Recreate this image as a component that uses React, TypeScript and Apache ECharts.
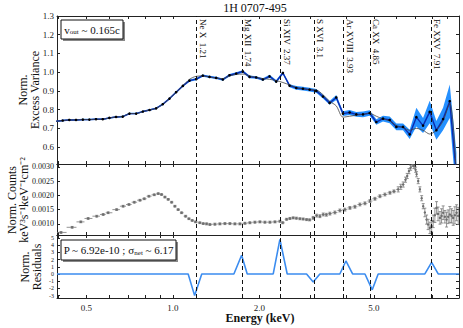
import React, { useEffect, useRef } from 'react';
import * as echarts from 'echarts';

const FONT = 'Liberation Serif';

// ---- top panel: normalised excess variance ----
const energies = [0.392,0.4135,0.436,0.460,0.486,0.512,0.540,0.570,0.601,0.634,0.669,0.706,0.745,0.786,0.829,0.874,0.922,0.973,1.026,1.083,1.142,1.205,1.271,1.341,1.414,1.492,1.574,1.660,1.751,1.848,1.949,2.056,2.169,2.288,2.414,2.547,2.687,2.834,2.990,3.154,3.328,3.510,3.703,3.907,4.121,4.348,4.587,4.839,5.104,5.385,5.681,5.993,6.322,6.669,7.035,7.422,7.829,8.259,8.713,9.192,9.697];
const excessVariance = [0.738,0.742,0.745,0.745,0.747,0.747,0.749,0.749,0.756,0.761,0.763,0.779,0.779,0.790,0.798,0.807,0.829,0.859,0.893,0.927,0.955,0.963,0.982,0.975,0.970,0.961,0.984,0.993,1.004,0.975,0.972,0.961,0.978,0.950,0.996,0.928,0.916,0.912,0.907,0.900,0.870,0.836,0.865,0.779,0.785,0.775,0.775,0.782,0.734,0.752,0.745,0.708,0.708,0.668,0.760,0.715,0.788,0.690,0.750,0.845,0.45];
const excessVarianceErr = [0.004,0.004,0.004,0.004,0.004,0.004,0.004,0.004,0.004,0.004,0.004,0.004,0.004,0.004,0.004,0.004,0.005,0.005,0.005,0.005,0.006,0.006,0.006,0.006,0.006,0.006,0.007,0.007,0.007,0.007,0.007,0.007,0.008,0.008,0.008,0.008,0.010,0.010,0.010,0.010,0.010,0.010,0.013,0.013,0.013,0.013,0.015,0.015,0.015,0.015,0.018,0.018,0.018,0.025,0.05,0.04,0.06,0.05,0.06,0.09,0.12];
const modelVariance = [0.738,0.742,0.745,0.745,0.747,0.747,0.749,0.749,0.756,0.761,0.763,0.779,0.779,0.790,0.798,0.807,0.829,0.859,0.893,0.927,0.962,0.978,0.980,0.974,0.968,0.966,0.980,0.988,0.990,0.980,0.972,0.966,0.962,0.955,0.945,0.932,0.918,0.912,0.907,0.905,0.880,0.845,0.820,0.760,0.765,0.770,0.775,0.780,0.765,0.750,0.740,0.715,0.705,0.690,0.700,0.690,0.670,0.690,0.740,0.835,0.45];

// ---- middle panel: normalised counts ----
const countEnergies = [0.408,0.446,0.478,0.507,0.543,0.572,0.595,0.637,0.671,0.703,0.734,0.768,0.795,0.825,0.861,0.889,0.913,0.938,0.963,0.990,1.016,1.043,1.072,1.107,1.137,1.167,1.199,1.241,1.275,1.31,1.345,1.400,1.457,1.517,1.579,1.643,1.711,1.781,1.853,1.929,2.008,2.090,2.176,2.265,2.357,2.41,2.487,2.554,2.622,2.69,2.767,2.84,2.919,2.99,3.078,3.163,3.247,3.335,3.42,3.518,3.662,3.812,3.968,4.130,4.299,4.475,4.659,4.849,5.047,5.253,5.468,5.692,5.877,6.083,6.21,6.33,6.45,6.538,6.63,6.717,6.82,6.899,6.99,7.047,7.14,7.237,7.34,7.432,7.53,7.635,7.73,7.841,7.95,8.05,8.16,8.27,8.37,8.50,8.61,8.72,8.84,8.96,9.08,9.20,9.33,9.45,9.58,9.71,9.84];
const countValues = [0.00070,0.00088,0.00107,0.00119,0.00127,0.00133,0.00139,0.00150,0.00162,0.00168,0.00176,0.00183,0.00188,0.00197,0.00202,0.00206,0.00203,0.00194,0.00186,0.00176,0.00162,0.00150,0.00139,0.00127,0.00118,0.00112,0.00107,0.00104,0.00101,0.00100,0.00098,0.00099,0.00100,0.00101,0.00101,0.00100,0.00100,0.00102,0.00104,0.00106,0.00107,0.00106,0.00106,0.00107,0.00109,0.00104,0.00116,0.00119,0.00121,0.00120,0.00118,0.00117,0.00115,0.00114,0.00121,0.00129,0.00127,0.00133,0.00132,0.00136,0.00140,0.00147,0.00150,0.00156,0.00160,0.00168,0.00172,0.00180,0.00188,0.00197,0.00203,0.00209,0.00214,0.00221,0.00230,0.00238,0.00255,0.00268,0.00285,0.00297,0.00310,0.00303,0.00290,0.00274,0.00250,0.00221,0.00190,0.00162,0.00140,0.00115,0.00098,0.00086,0.00092,0.00109,0.00130,0.00156,0.00135,0.00121,0.00128,0.00139,0.00125,0.00115,0.00125,0.00133,0.00128,0.00121,0.00130,0.00139,0.00128];
const countErrors = [0.00003,0.00003,0.00003,0.00003,0.00003,0.00003,0.00003,0.00003,0.00003,0.00003,0.00003,0.00003,0.00003,0.00003,0.00003,0.00003,0.00003,0.00003,0.00003,0.00003,0.00003,0.00003,0.00003,0.00003,0.00003,0.00003,0.00003,0.00003,0.00003,0.000035,0.000035,0.000035,0.000035,0.000035,0.000035,0.000035,0.000035,0.000035,0.000035,0.000035,0.000035,0.000035,0.000035,0.000035,0.000035,0.000035,0.000035,0.000035,0.000035,0.000035,0.000035,0.000035,0.000035,0.000035,0.00005,0.00005,0.00005,0.00005,0.00005,0.00005,0.00005,0.00005,0.00005,0.00005,0.00005,0.00005,0.00005,0.00005,0.00005,0.00005,0.00005,0.00005,0.00005,0.00009,0.00009,0.00009,0.00009,0.00009,0.00009,0.00009,0.00009,0.00009,0.00009,0.00009,0.00009,0.00009,0.00009,0.00009,0.00015,0.00016,0.00018,0.0002,0.0002,0.00022,0.00025,0.00022,0.00024,0.00022,0.00025,0.00024,0.00022,0.00026,0.00024,0.00028,0.00025,0.00026,0.0003,0.00028,0.0003];

// ---- bottom panel: residuals ----
const residualEnergies = [0.395,1.13,1.19,1.26,1.63,1.734,1.814,2.234,2.357,2.499,2.918,3.078,3.247,3.81,4.0,4.22,4.66,4.94,5.18,7.53,7.95,8.38,9.9];
const residualValues = [0,0,-3.0,0,0,2.6,0,0,4.8,0,0,-1.1,0,0,1.8,0,0,-2.2,0,0,1.6,0,0];

// ---- lines & ticks ----
const lineEnergies = [1.21, 1.74, 2.37, 3.1, 3.93, 4.85, 7.91];
const lineLabels = ['Ne X  1.21', 'Mg XII  1.74', 'Si XIV  2.37', 'S XVI  3.1', 'Ar XVIII  3.93', 'Ca XX  4.85', 'Fe XXV  7.91'];
const xLabelValues = [0.5, 1, 2, 5];
const xTickValues = [0.4, 0.5, 0.6, 0.7, 0.8, 0.9, 1, 2, 3, 4, 5, 6, 7, 8, 9];
const varianceTicks = [0.6, 0.7, 0.8, 0.9, 1.0, 1.1, 1.2, 1.3];
const countTicks = [0.001, 0.0015, 0.002, 0.0025, 0.003];
const residualTicks = [-3, -2, -1, 0, 1, 2, 3, 4, 5];

const X_MIN = 0.395;
const X_MAX = 9.9;

function buildOption() {
  const grids = [
    { left: 57, right: 4, top: 16, height: 148 },
    { left: 57, right: 4, top: 164, height: 71 },
    { left: 57, right: 4, top: 235, height: 63 },
  ];
  const xAxis: any[] = [];
  for (let g = 0; g < 3; g++) {
    for (const pos of ['bottom', 'top']) {
      xAxis.push({
        type: 'log', gridIndex: g, position: pos, min: X_MIN, max: X_MAX,
        axisLine: { show: true, onZero: false, lineStyle: { color: '#222', width: 1 } },
        axisTick: { show: true, inside: true, length: 3, customValues: xTickValues, lineStyle: { color: '#222' } },
        axisLabel: {
          show: g === 2 && pos === 'bottom', customValues: xLabelValues,
          formatter: (v: number) => v.toFixed(1), fontFamily: FONT, fontSize: 9, color: '#222', margin: 5,
        },
        splitLine: { show: false },
      });
    }
  }
  const yDefs = [
    { min: 0.51, max: 1.3, ticks: varianceTicks, fmt: (v: number) => v.toFixed(1), fs: 9 },
    { min: 0.00061, max: 0.0031, ticks: countTicks, fmt: (v: number) => v.toFixed(4), fs: 8 },
    { min: -3.33, max: 5.4, ticks: residualTicks, fmt: (v: number) => String(Math.round(v)), fs: 6 },
  ];
  const yAxis: any[] = [];
  yDefs.forEach((d, g) => {
    for (const pos of ['left', 'right']) {
      yAxis.push({
        type: 'value', gridIndex: g, position: pos, min: d.min, max: d.max,
        axisLine: { show: true, onZero: false, lineStyle: { color: '#222', width: 1 } },
        axisTick: { show: true, inside: true, length: 3, customValues: d.ticks, lineStyle: { color: '#222' } },
        axisLabel: {
          show: pos === 'left', customValues: d.ticks, formatter: d.fmt,
          fontFamily: FONT, fontSize: d.fs, color: '#222', margin: 3,
        },
        splitLine: { show: false },
      });
    }
  });

  const markLine = {
    silent: true, symbol: ['none', 'none'], label: { show: false },
    lineStyle: { type: [4, 3], color: '#111', width: 1 },
    data: lineEnergies.map((e) => ({ xAxis: e })),
  };

  const countData = countEnergies.map((e, i) => {
    const lo = i > 0 ? Math.sqrt(countEnergies[i - 1] * e) : e * 0.95;
    const hi = i < countEnergies.length - 1 ? Math.sqrt(countEnergies[i + 1] * e) : e * 1.01;
    return [e, countValues[i], countErrors[i], lo, hi];
  });

  const series: any[] = [
    {
      type: 'custom', xAxisIndex: 0, yAxisIndex: 0, clip: true, silent: true,
      data: energies.map((e, i) => [e, excessVariance[i]]),
      renderItem: (params: any, api: any) => {
        if (params.dataIndex !== 0) return null;
        const upper = energies.map((e, i) => api.coord([e, excessVariance[i] + excessVarianceErr[i]]));
        const lower = energies.map((e, i) => api.coord([e, excessVariance[i] - excessVarianceErr[i]])).reverse();
        return { type: 'polygon', shape: { points: [...upper, ...lower] }, style: { fill: '#2590ff' } };
      },
    },
    {
      type: 'line', xAxisIndex: 0, yAxisIndex: 0, symbol: 'circle', symbolSize: 2.6,
      itemStyle: { color: '#000' }, lineStyle: { color: '#0a2bb0', width: 1.4 },
      data: energies.map((e, i) => [e, excessVariance[i]]),
      markLine,
    },
    {
      type: 'line', xAxisIndex: 0, yAxisIndex: 0, symbol: 'none', smooth: 0.3,
      lineStyle: { color: '#444', width: 0.8 },
      data: energies.map((e, i) => [e, modelVariance[i]]),
    },
    {
      type: 'line', xAxisIndex: 2, yAxisIndex: 2, symbol: 'none', lineStyle: { opacity: 0 },
      data: countEnergies.map((e, i) => [e, countValues[i]]), markLine,
    },
    {
      type: 'custom', xAxisIndex: 2, yAxisIndex: 2, clip: true,
      data: countData,
      renderItem: (params: any, api: any) => {
        const e = api.value(0), v = api.value(1), err = api.value(2), lo = api.value(3), hi = api.value(4);
        const p = api.coord([e, v]);
        const t = api.coord([e, v + err]);
        const b = api.coord([e, v - err]);
        const l = api.coord([lo, v]);
        const r = api.coord([hi, v]);
        const st = { stroke: '#7a7a7a', lineWidth: 0.8, fill: null };
        return {
          type: 'group',
          children: [
            { type: 'line', shape: { x1: t[0], y1: t[1], x2: b[0], y2: b[1] }, style: st },
            { type: 'line', shape: { x1: t[0] - 1.5, y1: t[1], x2: t[0] + 1.5, y2: t[1] }, style: st },
            { type: 'line', shape: { x1: b[0] - 1.5, y1: b[1], x2: b[0] + 1.5, y2: b[1] }, style: st },
            { type: 'line', shape: { x1: l[0], y1: l[1], x2: r[0], y2: r[1] }, style: st },
            { type: 'circle', shape: { cx: p[0], cy: p[1], r: 1.2 }, style: { fill: '#6e6e6e' } },
          ],
        };
      },
    },
    {
      type: 'line', xAxisIndex: 4, yAxisIndex: 4, symbol: 'none',
      lineStyle: { color: '#3b8cef', width: 1.6 },
      data: residualEnergies.map((e, i) => [e, residualValues[i]]),
      markLine,
    },
  ];

  return { animation: false, grid: grids, xAxis, yAxis, series };
}

function vText(x: number, y: number, text: string, size = 12) {
  return {
    type: 'text', x, y, rotation: Math.PI / 2,
    style: { text, fontFamily: FONT, fontSize: size, fill: '#111', align: 'center', verticalAlign: 'middle' },
  };
}

function baseGraphics() {
  return [
    { type: 'text', x: 255, y: 8,
      style: { text: '1H 0707-495', fontFamily: FONT, fontSize: 12, fill: '#111', align: 'center', verticalAlign: 'middle' } },
    { type: 'text', x: 260, y: 318,
      style: { text: 'Energy (keV)', fontFamily: FONT, fontSize: 12, fontWeight: 'bold', fill: '#111', align: 'center', verticalAlign: 'middle' } },
    vText(23, 90, 'Norm.'),
    vText(35, 90, 'Excess Variance'),
    vText(12, 200, 'Norm. Counts'),
    vText(24, 200, 'keV³s⁻¹keV⁻¹cm⁻²'),
    vText(25, 267, 'Norm.'),
    vText(37, 267, 'Residuals'),
    { type: 'rect', shape: { x: 63, y: 22, width: 62, height: 19 }, style: { fill: '#888' } },
    { type: 'rect', shape: { x: 61, y: 20, width: 62, height: 19 }, style: { fill: '#fff', stroke: '#111', lineWidth: 1 } },
    { type: 'text', x: 92, y: 29.5,
      style: { text: '{a|v}{s|out}{a| ~ 0.165c}', align: 'center', verticalAlign: 'middle',
        rich: { a: { fontFamily: FONT, fontSize: 11, fill: '#111' }, s: { fontFamily: FONT, fontSize: 7, fill: '#111', padding: [5, 0, 0, 0] } } } },
    { type: 'rect', shape: { x: 63, y: 242, width: 115, height: 20 }, style: { fill: '#888' } },
    { type: 'rect', shape: { x: 61, y: 240, width: 115, height: 20 }, style: { fill: '#fff', stroke: '#111', lineWidth: 1 } },
    { type: 'text', x: 118.5, y: 250,
      style: { text: '{a|P ~ 6.92e-10 ; σ}{s|net}{a| ~ 6.17}', align: 'center', verticalAlign: 'middle',
        rich: { a: { fontFamily: FONT, fontSize: 11, fill: '#111' }, s: { fontFamily: FONT, fontSize: 7, fill: '#111', padding: [5, 0, 0, 0] } } } },
  ];
}

export default function App() {
  const ref = useRef<HTMLDivElement>(null);
  useEffect(() => {
    const chart = echarts.init(ref.current!, null, { renderer: 'svg' });
    chart.setOption(buildOption() as any);
    const labels = lineEnergies.map((e, i) => {
      const px = chart.convertToPixel({ xAxisIndex: 0 }, e) as unknown as number;
      return {
        type: 'text', x: px + 1.5, y: 19, rotation: -Math.PI / 2,
        style: { text: lineLabels[i], fontFamily: FONT, fontSize: 9, fill: '#111', align: 'left', verticalAlign: 'bottom' },
      };
    });
    chart.setOption({ graphic: [...baseGraphics(), ...labels] } as any);
    return () => chart.dispose();
  }, []);
  return <div ref={ref} style={{ position: 'absolute', left: 0, top: 0, width: 463, height: 328 }} />;
}
